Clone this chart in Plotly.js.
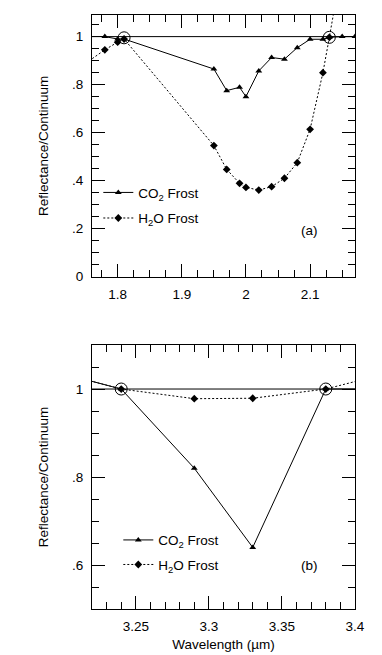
<!DOCTYPE html>
<html>
<head>
<meta charset="utf-8">
<script src="https://cdn.plot.ly/plotly-3.0.1.min.js"></script>
<style>
  html, body { margin: 0; padding: 0; background: #fff; }
  #chart { width: 382px; height: 655px; }
</style>
</head>
<body>
<div id="chart"></div>
<script>
// ---- Panel (a): 1.8 - 2.2 micron region ----
const co2TopX = [1.78, 1.80, 1.81, 1.95, 1.97, 1.99, 2.00, 2.02, 2.04, 2.06, 2.08, 2.10, 2.12, 2.13, 2.15, 2.17];
const co2TopY = [1.00, 0.99, 0.99, 0.865, 0.775, 0.789, 0.75, 0.857, 0.913, 0.906, 0.954, 0.989, 0.989, 0.997, 1.00, 1.00];
const h2oTopX = [1.74, 1.78, 1.80, 1.81, 1.95, 1.97, 1.99, 2.00, 2.02, 2.04, 2.06, 2.08, 2.10, 2.12, 2.13, 2.15];
const h2oTopY = [0.87, 0.945, 0.977, 0.99, 0.546, 0.447, 0.389, 0.372, 0.361, 0.375, 0.41, 0.475, 0.614, 0.85, 0.997, 1.30];
const anchorTopX = [1.81, 2.13];
const anchorTopY = [0.995, 0.997];

// ---- Panel (b): 3.3 micron region ----
const co2BotX = [3.20, 3.24, 3.29, 3.33, 3.38, 3.42];
const co2BotY = [1.035, 1.00, 0.82, 0.64, 1.00, 1.00];
const h2oBotX = [3.20, 3.24, 3.29, 3.33, 3.38, 3.42];
const h2oBotY = [1.035, 1.00, 0.978, 0.979, 1.00, 1.034];
const anchorBotX = [3.24, 3.38];
const anchorBotY = [1.00, 1.00];

const continuumLevel = 1;

// ---- Tick labels ----
const topXTickVals = [1.8, 1.9, 2, 2.1];
const topXTickText = ['1.8', '1.9', '2', '2.1'];
const topYTickVals = [0, 0.2, 0.4, 0.6, 0.8, 1];
const topYTickText = ['0', '.2', '.4', '.6', '.8', '1'];
const botXTickVals = [3.25, 3.3, 3.35, 3.4];
const botXTickText = ['3.25', '3.3', '3.35', '3.4'];
const botYTickVals = [0.6, 0.8, 1];
const botYTickText = ['.6', '.8', '1'];

function alias(vals, texts) {
  const m = {};
  vals.forEach((v, i) => { m[String(v)] = texts[i]; });
  return m;
}

const FONT = 'Liberation Sans, Arial, Helvetica, sans-serif';
const FS = 13.5;

const co2Label = 'CO<sub>2</sub> Frost';
const h2oLabel = 'H<sub>2</sub>O Frost';

const co2Style = { mode: 'lines+markers', line: { color: '#000', width: 1 }, marker: { symbol: 'triangle-up', size: 6, color: '#000' } };
const h2oStyle = { mode: 'lines+markers', line: { color: '#000', width: 1, dash: '2px,2px' }, marker: { symbol: 'diamond', size: 6, color: '#000' } };
const anchorStyle = { mode: 'markers', marker: { symbol: 'circle-open', size: 12, color: '#000', line: { width: 1, color: '#000' } }, showlegend: false, hoverinfo: 'skip' };

const traces = [
  Object.assign({ x: co2TopX, y: co2TopY, name: co2Label, xaxis: 'x', yaxis: 'y', legend: 'legend', legendgroup: 'a1' }, co2Style),
  Object.assign({ x: h2oTopX, y: h2oTopY, name: h2oLabel, xaxis: 'x', yaxis: 'y', legend: 'legend', legendgroup: 'a2' }, h2oStyle),
  Object.assign({ x: anchorTopX, y: anchorTopY, xaxis: 'x', yaxis: 'y' }, anchorStyle),
  Object.assign({ x: co2BotX, y: co2BotY, name: co2Label, xaxis: 'x2', yaxis: 'y2', legend: 'legend2', legendgroup: 'b1' }, co2Style),
  Object.assign({ x: h2oBotX, y: h2oBotY, name: h2oLabel, xaxis: 'x2', yaxis: 'y2', legend: 'legend2', legendgroup: 'b2' }, h2oStyle),
  Object.assign({ x: anchorBotX, y: anchorBotY, xaxis: 'x2', yaxis: 'y2' }, anchorStyle)
];

function axisBase(vals, texts, minorDtick, extra) {
  return Object.assign({
    showline: true, linecolor: '#000', linewidth: 1, mirror: 'allticks',
    ticks: 'inside', ticklen: 13, tickwidth: 1, tickcolor: '#000',
    showgrid: false, zeroline: false,
    tickmode: 'linear', tick0: vals[0], dtick: +(vals[1] - vals[0]).toFixed(4),
    labelalias: alias(vals, texts),
    tickfont: { family: FONT, size: FS, color: '#000' },
    ticklabelstandoff: 5,
    minor: { dtick: minorDtick, ticks: 'inside', ticklen: 7, tickwidth: 1, tickcolor: '#000' }
  }, extra);
}

const ytitle = { text: 'Reflectance/Continuum', font: { family: FONT, size: FS, color: '#000' }, standoff: 20 };

const layout = {
  width: 382, height: 655,
  margin: { l: 92, r: 27, t: 15, b: 46 },
  paper_bgcolor: '#fff', plot_bgcolor: '#fff',
  font: { family: FONT, size: FS, color: '#000' },
  xaxis: axisBase(topXTickVals, topXTickText, 0.025, { domain: [0, 1], anchor: 'y', range: [1.76, 2.17] }),
  yaxis: axisBase(topYTickVals, topYTickText, 0.05, { domain: [0.5594, 1], anchor: 'x', range: [0, 1.09], title: ytitle }),
  xaxis2: axisBase(botXTickVals, botXTickText, 0.01, { domain: [0, 1], anchor: 'y2', range: [3.22, 3.40],
    title: { text: 'Wavelength (µm)', font: { family: FONT, size: FS, color: '#000' }, standoff: 6 } }),
  yaxis2: axisBase(botYTickVals, botYTickText, 0.05, { domain: [0, 0.4444], anchor: 'x2', range: [0.5, 1.1], title: ytitle }),
  legend: { x: 0.024, y: 0.727, xanchor: 'left', yanchor: 'top', bgcolor: 'rgba(0,0,0,0)', borderwidth: 0,
    font: { family: FONT, size: FS, color: '#000' }, tracegroupgap: 5, traceorder: 'grouped' },
  legend2: { x: 0.10, y: 0.142, xanchor: 'left', yanchor: 'top', bgcolor: 'rgba(0,0,0,0)', borderwidth: 0,
    font: { family: FONT, size: FS, color: '#000' }, tracegroupgap: 4, traceorder: 'grouped' },
  shapes: [
    { type: 'line', xref: 'x domain', yref: 'y', x0: 0, x1: 1, y0: continuumLevel, y1: continuumLevel, line: { color: '#000', width: 1 }, layer: 'below' },
    { type: 'line', xref: 'x2 domain', yref: 'y2', x0: 0, x1: 1, y0: continuumLevel, y1: continuumLevel, line: { color: '#000', width: 1 }, layer: 'below' }
  ],
  annotations: [
    { text: '(a)', xref: 'x domain', yref: 'y domain', x: 0.828, y: 0.178, xanchor: 'center', yanchor: 'middle', showarrow: false, font: { family: FONT, size: FS, color: '#000' } },
    { text: '(b)', xref: 'x2 domain', yref: 'y2 domain', x: 0.828, y: 0.164, xanchor: 'center', yanchor: 'middle', showarrow: false, font: { family: FONT, size: FS, color: '#000' } }
  ],
  showlegend: true
};

Plotly.newPlot('chart', traces, layout, { displayModeBar: false, staticPlot: true });
</script>
</body>
</html>
